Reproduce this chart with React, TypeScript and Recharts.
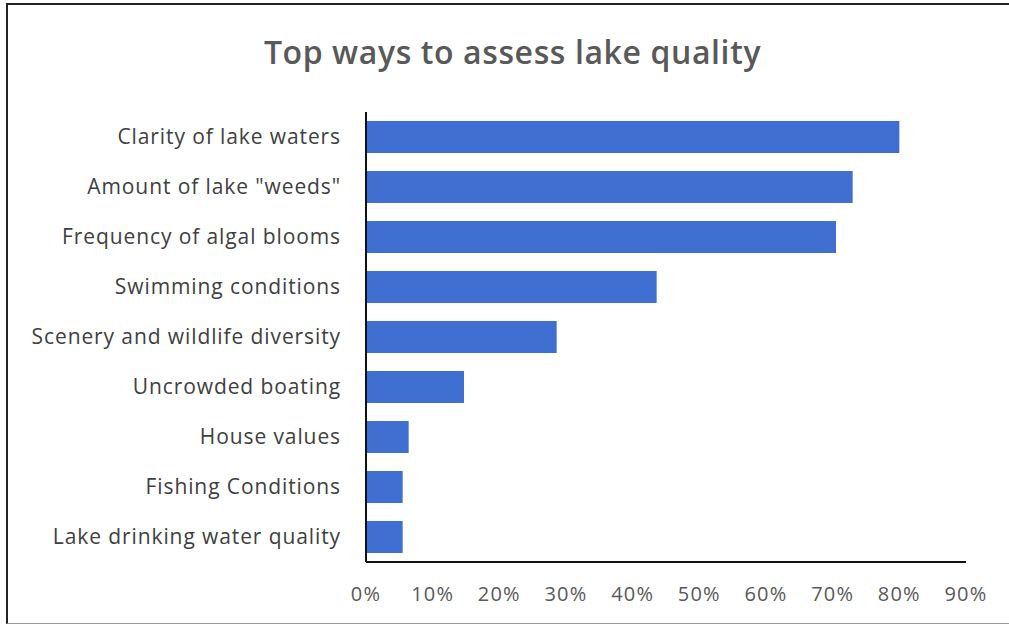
import { BarChart, Bar, XAxis, YAxis } from "recharts";

const categories = [
  "Clarity of lake waters",
  'Amount of lake "weeds"',
  "Frequency of algal blooms",
  "Swimming conditions",
  "Scenery and wildlife diversity",
  "Uncrowded boating",
  "House values",
  "Fishing Conditions",
  "Lake drinking water quality",
];

const shares = [0.8, 0.73, 0.705, 0.436, 0.286, 0.147, 0.064, 0.055, 0.055];

const xTicks = [0, 0.1, 0.2, 0.3, 0.4, 0.5, 0.6, 0.7, 0.8, 0.9];

const data = categories.map((name, i) => ({ name, value: shares[i] }));

const FONT = "'Open Sans', sans-serif";

export default function App() {
  return (
    <div style={{ position: "absolute", left: 0, top: 0, width: 1009, height: 627, background: "#fff", overflow: "hidden" }}>
      <div
        style={{
          position: "absolute",
          left: 6,
          top: 3,
          width: 1003,
          height: 621,
          borderTop: "2px solid #222",
          borderLeft: "2px solid #222",
          borderBottom: "1px solid #999",
          boxSizing: "border-box",
        }}
      />
      <div
        style={{
          position: "absolute",
          left: 8,
          width: 1009,
          top: 30,
          textAlign: "center",
          fontFamily: FONT,
          fontSize: 32,
          fontWeight: 600,
          letterSpacing: 0.6,
          color: "#595959",
        }}
      >
        Top ways to assess lake quality
      </div>
      <div style={{ position: "absolute", left: 0, top: 0 }}>
        <BarChart
          width={1009}
          height={627}
          data={data}
          layout="vertical"
          margin={{ top: 112, right: 43, bottom: 0, left: 0 }}
          barCategoryGap="18%"
        >
          <XAxis
            type="number"
            domain={[0, 0.9]}
            ticks={xTicks}
            height={65}
            tickFormatter={(v: number) => `${Math.round(v * 100)}%`}
            axisLine={{ stroke: "#111", strokeWidth: 2 }}
            tickLine={false}
            tickSize={0}
            tickMargin={25}
            tick={{ fill: "#595959", fontSize: 20, fontFamily: FONT, letterSpacing: 1.2 }}
          />
          <YAxis
            type="category"
            dataKey="name"
            width={366}
            axisLine={{ stroke: "#111", strokeWidth: 2 }}
            tickLine={false}
            tickSize={0}
            tickMargin={25}
            interval={0}
            tick={{ fill: "#404040", fontSize: 21, fontFamily: FONT, letterSpacing: 0.9 }}
          />
          <Bar dataKey="value" fill="#3F6FD0" isAnimationActive={false} />
        </BarChart>
      </div>
    </div>
  );
}
